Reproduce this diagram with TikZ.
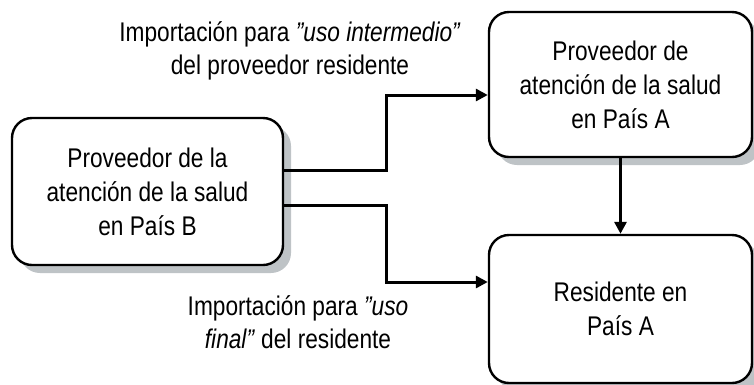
\documentclass[tikz,border=0pt]{standalone}
\usepackage{fontspec}
\setmainfont{Liberation Sans}[FakeStretch=0.84, Ligatures=ResetAll]
\usetikzlibrary{arrows.meta,shadows}
\definecolor{shadowgray}{RGB}{190,195,198}
\newcommand{\dq}{\symbol{34}}
\tikzset{
  box/.style={draw=black, line width=2.4pt, rounded corners=20pt, fill=white,
    align=center, font=\fontsize{27}{34}\selectfont, inner sep=0pt,
    drop shadow={shadow xshift=8pt, shadow yshift=-8pt, fill=shadowgray, opacity=1}},
  conn/.style={line width=3pt, -{Triangle[length=12pt,width=12pt]}},
  lbl/.style={align=center, font=\fontsize{27}{33}\selectfont}
}
\begin{document}
\begin{tikzpicture}[x=1pt,y=-1pt]
\useasboundingbox (0,0) rectangle (754,384);
\node[box, minimum width=271pt, minimum height=147pt] (B) at (147.5,191.5) {Proveedor de la\\atención de la salud\\en País B};
\node[box, minimum width=263pt, minimum height=145pt] (PA) at (620.5,84.5) {Proveedor de\\atención de la salud\\en País A};
\node[box, minimum width=263pt, minimum height=148pt] (RA) at (620.5,309) {Residente en\\País A};
\coordinate (s1) at (282,170);
\coordinate (s2) at (282,205);
\draw[conn] (s1) -- (386,170) -- (386,95) -- (PA.west |- 0,95);
\draw[conn] (s2) -- (386,205) -- (386,282) -- (RA.west |- 0,282);
\draw[conn] (PA.south) -- (RA.north);
\node[lbl] (l1) at (290,51) {Importación para \textit{\dq uso intermedio\dq}\\del proveedor residente};
\node[lbl] (l2) at (298,322) {Importación para \textit{\dq uso}\\\textit{final\dq} del residente};
\end{tikzpicture}
\end{document}
